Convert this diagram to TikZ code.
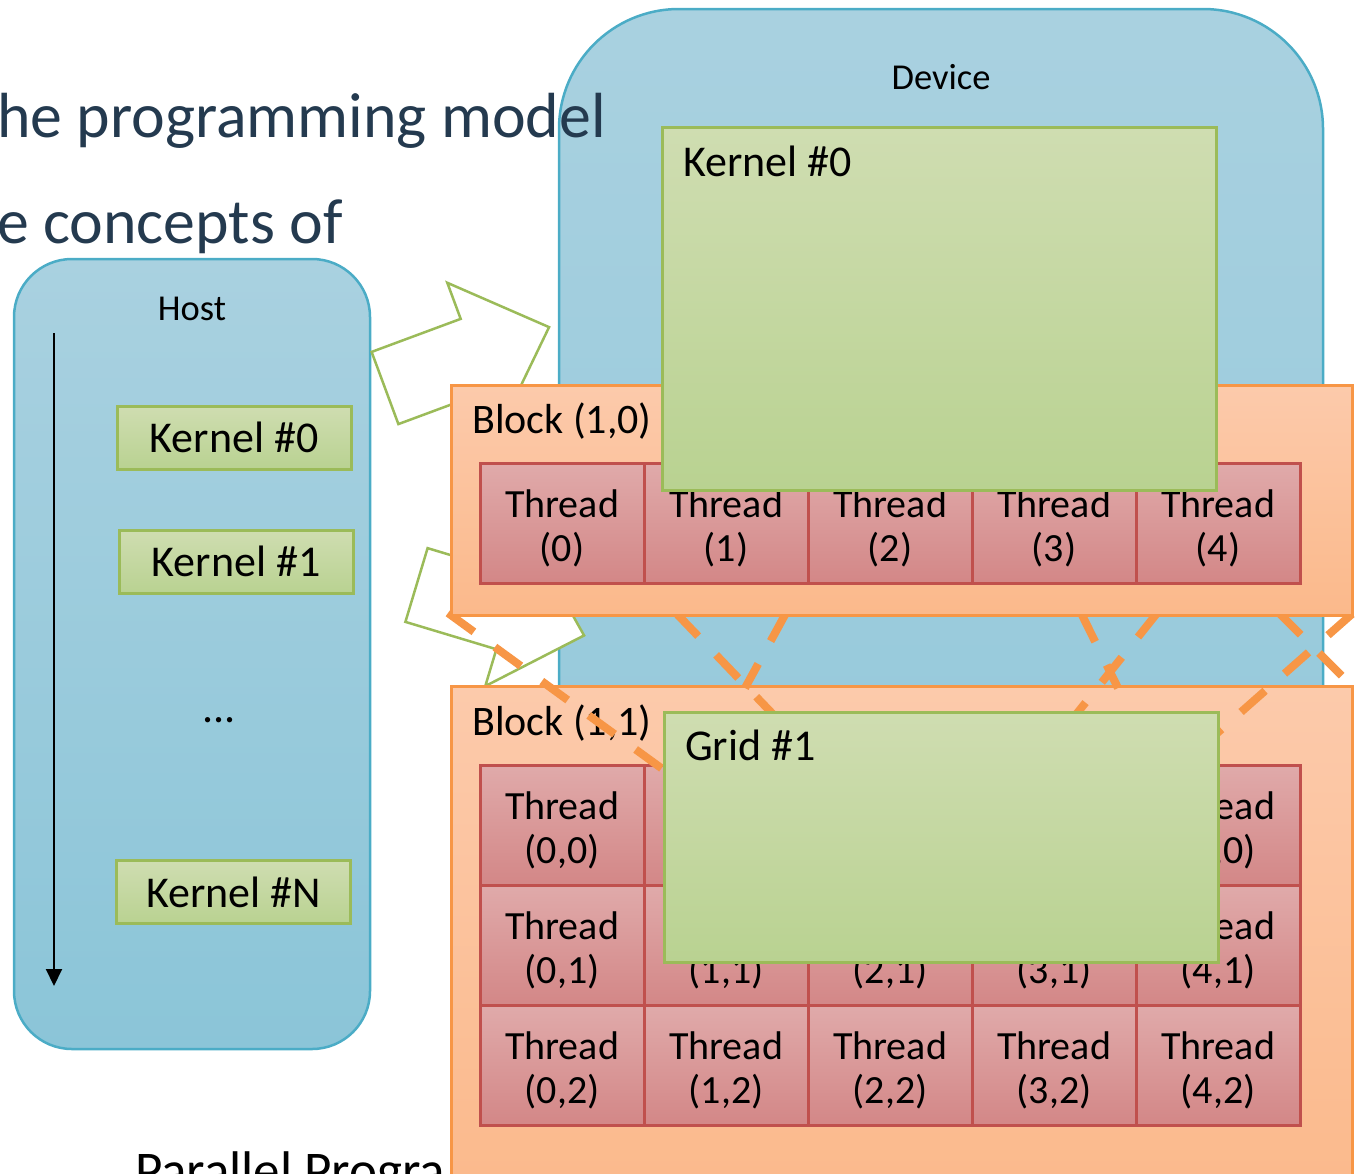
\documentclass[tikz,border=0pt]{standalone}
\usepackage{fontspec}
\setmainfont{Carlito}
\usetikzlibrary{arrows.meta,positioning}
\definecolor{hosttop}{HTML}{A9D1E0}
\definecolor{hostbot}{HTML}{8BC5D8}
\definecolor{hostline}{HTML}{4BACC6}
\definecolor{greentop}{HTML}{CFDDB1}
\definecolor{greenbot}{HTML}{B9D291}
\definecolor{greenline}{HTML}{9BBB59}
\definecolor{blocktop}{HTML}{FCCAAB}
\definecolor{blockbot}{HTML}{FBB98B}
\definecolor{blockline}{HTML}{F79646}
\definecolor{threadtop}{HTML}{E0AAAA}
\definecolor{threadbot}{HTML}{D38787}
\definecolor{threadline}{HTML}{C0504D}
\definecolor{slidetext}{HTML}{243A4F}
\newcommand{\thr}[1]{\rule{0pt}{38pt}Thread\\#1}
\tikzset{
  hostbox/.style={
    draw=hostline,
    line width=2.5pt,
    top color=hosttop,
    bottom color=hostbot,
    inner sep=0pt
  },
  kernelbox/.style={
    draw=greenline,
    line width=3pt,
    top color=greentop,
    bottom color=greenbot,
    inner sep=0pt,
    font=\fontsize{44}{48}\selectfont
  },
  blockbox/.style={
    draw=blockline,
    line width=3pt,
    top color=blocktop,
    bottom color=blockbot,
    inner sep=0pt
  },
  threadbox/.style={
    draw=threadline,
    line width=3pt,
    top color=threadtop,
    bottom color=threadbot,
    minimum width=164pt,
    minimum height=120pt,
    outer sep=0pt,
    inner sep=0pt,
    align=center,
    font=\fontsize{40}{44}\selectfont
  },
  boxtitle/.style={anchor=base west, inner sep=0pt, font=\fontsize{42}{46}\selectfont},
  headtitle/.style={anchor=base, inner sep=0pt, font=\fontsize{36.5}{40}\selectfont},
  slideline/.style={anchor=base west, inner sep=0pt, text=slidetext, font=\fontsize{63.8}{70}\selectfont},
  bigarrow/.style={draw=greenline, fill=white, line width=2.5pt, line join=miter},
  dashlink/.style={draw=blockline, line width=8pt, dash pattern=on 32pt off 26pt},
  timeline/.style={-{Triangle[length=17pt,width=16pt]}, line width=2pt}
}

\begin{document}
\begin{tikzpicture}[x=1pt,y=-1pt]
\useasboundingbox (0,0) rectangle (1359,1173);
\clip (0,0) rectangle (1359,1173);

% host side
\node[hostbox, rounded corners=58pt, minimum width=356pt, minimum height=790pt] (host) at (192,654) {};
\node[headtitle] (hostlbl) at (192,320) {Host};
\coordinate (tstart) at (54,333);
\coordinate (tend) at (54,986);
\draw[timeline] (tstart) -- (tend);
\node[kernelbox, minimum width=234pt, minimum height=63pt] (hk0) at (234,437.5) {Kernel \#0};
\node[kernelbox, minimum width=234pt, minimum height=63pt] (hk1) at (236,561.5) {Kernel \#1};
\node[inner sep=0pt, font=\fontsize{44}{48}\selectfont] (hdots) at (219,720) {...};
\node[kernelbox, minimum width=234pt, minimum height=63pt] (hkn) at (233.5,892) {Kernel \#N};

% device
\node[hostbox, rounded corners=120pt, minimum width=764pt, minimum height=1231pt] (dev) at (941,624.5) {};
\node[headtitle] (devlbl) at (941,89) {Device};

% slide text behind
\node[slideline] (txt1) at (-3,137) {he programming model};
\node[slideline] (txt2) at (-3,243) {e concepts of};
\node[anchor=base west, inner sep=0pt, font=\fontsize{53}{58}\selectfont] (txt3) at (135,1188) {Parallel Progra};

% launch arrows
\begin{scope}[shift={(385,388)}, rotate=20.35]
  \draw[bigarrow] (0,-38.5) -- (95,-38.5) -- (95,-77) -- (175,0) -- (95,77) -- (95,38.5) -- (0,38.5) -- cycle;
\end{scope}
\begin{scope}[shift={(416.5,585)}, rotate=-16.75]
  \draw[bigarrow] (0,-38.5) -- (95,-38.5) -- (95,-77) -- (175,0) -- (95,77) -- (95,38.5) -- (0,38.5) -- cycle;
\end{scope}

% block (1,1)
\node[blockbox, minimum width=901pt, minimum height=520pt] (b11) at (901.5,946) {};
\node[boxtitle] (b11lbl) at (472,735) {Block (1,1)};
\node[threadbox] (t00) at (562,825) {\thr{(0,0)}};
\node[threadbox, right=0pt of t00] (t10) {\thr{(1,0)}};
\node[threadbox, right=0pt of t10] (t20) {\thr{(2,0)}};
\node[threadbox, right=0pt of t20] (t30) {\thr{(3,0)}};
\node[threadbox, right=0pt of t30] (t40) {\thr{(4,0)}};
\node[threadbox, below=0pt of t00] (t01) {\thr{(0,1)}};
\node[threadbox, right=0pt of t01] (t11) {\thr{(1,1)}};
\node[threadbox, right=0pt of t11] (t21) {\thr{(2,1)}};
\node[threadbox, right=0pt of t21] (t31) {\thr{(3,1)}};
\node[threadbox, right=0pt of t31] (t41) {\thr{(4,1)}};
\node[threadbox, below=0pt of t01] (t02) {\thr{(0,2)}};
\node[threadbox, right=0pt of t02] (t12) {\thr{(1,2)}};
\node[threadbox, right=0pt of t12] (t22) {\thr{(2,2)}};
\node[threadbox, right=0pt of t22] (t32) {\thr{(3,2)}};
\node[threadbox, right=0pt of t32] (t42) {\thr{(4,2)}};

% dashed links between the blocks
\draw[dashlink] (448,613) -- (668,773);
\draw[dashlink] (676,613) -- (790,732);
\draw[dashlink] (786,613) -- (745,688);
\draw[dashlink] (1081,613) -- (1118,688);
\draw[dashlink] (1158,612) -- (1070,722);
\draw[dashlink] (1278,612) -- (1354,688);
\draw[dashlink] (1352,614) -- (1215,735);

% block (1,0)
\node[blockbox, minimum width=901pt, minimum height=230pt] (b10) at (901.5,500) {};
\node[boxtitle] (b10lbl) at (472,433) {Block (1,0)};
\node[threadbox] (t0) at (562,523) {\thr{(0)}};
\node[threadbox, right=0pt of t0] (t1) {\thr{(1)}};
\node[threadbox, right=0pt of t1] (t2) {\thr{(2)}};
\node[threadbox, right=0pt of t2] (t3) {\thr{(3)}};
\node[threadbox, right=0pt of t3] (t4) {\thr{(4)}};

% kernel and grid on the device
\node[kernelbox, minimum width=554pt, minimum height=363pt] (dk0) at (939,308.5) {};
\node[boxtitle, font=\fontsize{44}{48}\selectfont] (dk0lbl) at (683,176) {Kernel \#0};
\node[kernelbox, minimum width=554pt, minimum height=250pt] (grid1) at (941,837) {};
\node[boxtitle, font=\fontsize{44}{48}\selectfont] (grid1lbl) at (685,760) {Grid \#1};
\end{tikzpicture}
\end{document}
